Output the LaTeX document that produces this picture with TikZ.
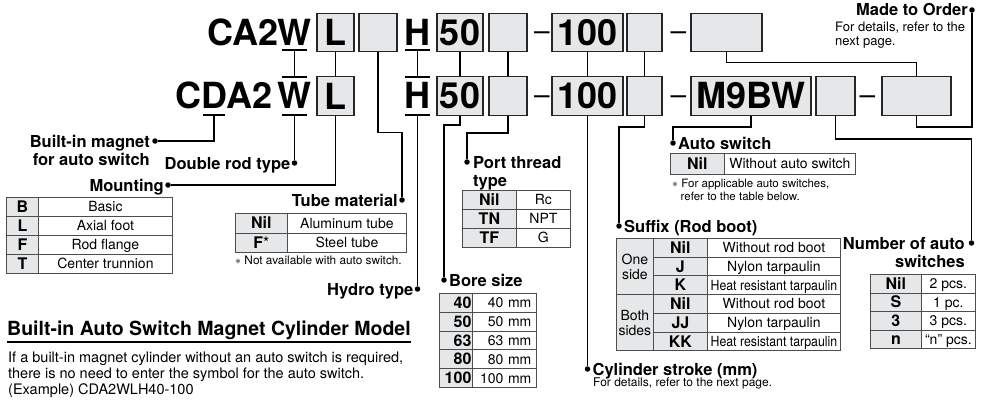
\documentclass[tikz,border=0pt]{standalone}
\usepackage{fontspec}
\usepackage{graphicx}
\setmainfont{TeX Gyre Heros}
\usetikzlibrary{positioning}

\definecolor{cellgray}{HTML}{E6E7E8}
\definecolor{rulegray}{HTML}{4D4D4D}

\newcommand{\fsz}[2]{\fontsize{#1}{#2}\selectfont}

\tikzset{
  code/.style={font=\fsz{36}{38}\bfseries, inner sep=0pt, anchor=base},
  codebox/.style={draw=black!85, line width=1.3pt, fill=cellgray, minimum height=38.5pt, inner sep=0pt, font=\fsz{36}{38}\bfseries},
  hyph/.style={font=\fsz{28}{30}, inner sep=0pt, anchor=base},
  conn/.style={line width=1.3pt},
  pin/.style={circle, fill=black, inner sep=0pt, minimum size=5.5pt},
  lbl/.style={font=\fsz{16.5}{18}\bfseries, inner sep=0pt},
  lblleft/.style={lbl, anchor=base east, xshift=-4pt, yshift=-6pt},
  lblright/.style={lbl, anchor=base west, xshift=5pt, yshift=-6pt},
  note/.style={font=\fsz{12.5}{14}, inner sep=0pt, align=left, anchor=north west},
  keycell/.style={draw=rulegray, line width=0.8pt, fill=cellgray, font=\fsz{16}{18}\bfseries, inner sep=0pt, anchor=north west, text height=11.5pt, text depth=0pt, minimum height=19pt},
  valcell/.style={draw=rulegray, line width=0.8pt, fill=white, font=\fsz{14}{16}, inner sep=0pt, anchor=north west, text height=10pt, text depth=0pt, minimum height=19pt},
  sidecell/.style={draw=rulegray, line width=0.8pt, fill=cellgray, font=\fsz{14}{15}, inner sep=0pt, anchor=north west, align=center, minimum width=37pt, minimum height=56.1pt},
}

\begin{document}
\begin{tikzpicture}[x=1pt,y=-1pt]
\useasboundingbox (0,0) rectangle (984,401);

% first code line
\node[code, anchor=base east] (ca1) at (279,45.5) {CA2};
\node[code] (w1) at (294.5,45.5) {W};
\node[codebox, minimum width=37pt] (mount1) at (335.5,32.5) {L};
\node[codebox, minimum width=38pt] (tube1) at (378,32.5) {};
\node[code] (h1) at (417.5,45.5) {H};
\node[codebox, minimum width=46pt] (bore1) at (460,32.5) {50};
\node[codebox, minimum width=38pt] (port1) at (508,32.5) {};
\node[hyph] (dash11) at (542,41) {–};
\node[codebox, minimum width=71pt] (stroke1) at (587.5,32.5) {100};
\node[codebox, minimum width=35pt] (suffix1) at (644.5,32.5) {};
\node[hyph] (dash12) at (678.5,41) {–};
\node[codebox, minimum width=71pt] (order1) at (726.5,32.5) {};

% second code line
\node[code, anchor=base east] (c2) at (201.5,109) {C};
\node[code] (d2) at (214,109) {D};
\node[code, anchor=base west] (a2) at (226.5,109) {A2};
\node[code] (w2) at (294.5,109) {W};
\node[codebox, minimum width=37pt] (mount2) at (335.5,96) {L};
\node[code] (h2) at (417.5,109) {H};
\node[codebox, minimum width=46pt] (bore2) at (460,96) {50};
\node[codebox, minimum width=38pt] (port2) at (508,96) {};
\node[hyph] (dash21) at (542,104.5) {–};
\node[codebox, minimum width=71pt] (stroke2) at (587.5,96) {100};
\node[codebox, minimum width=35pt] (suffix2) at (644.5,96) {};
\node[hyph] (dash22) at (678.5,104.5) {–};
\node[codebox, minimum width=120pt] (switch2) at (751,96) {M9BW};
\node[codebox, minimum width=39pt] (count2) at (835.5,96) {};
\node[hyph] (dash23) at (867.5,104.5) {–};
\node[codebox, minimum width=69pt] (order2) at (916.5,96) {};

% bars under and over the letters
\coordinate (w1b) at (294.5,50);
\coordinate (w2t) at (294.5,77);
\coordinate (w2b) at (294.5,115);
\coordinate (d2b) at (214,115);
\coordinate (h1b) at (417.5,50);
\coordinate (h2t) at (417.5,77);
\coordinate (h2b) at (417.5,115);
\draw[conn] ([xshift=-12.5pt]w1b) -- ([xshift=12.5pt]w1b);
\draw[conn] ([xshift=-12.5pt]w2t) -- ([xshift=12.5pt]w2t);
\draw[conn] ([xshift=-12.5pt]w2b) -- ([xshift=12.5pt]w2b);
\draw[conn] ([xshift=-11pt]d2b) -- ([xshift=11pt]d2b);
\draw[conn] ([xshift=-12.5pt]h1b) -- ([xshift=12.5pt]h1b);
\draw[conn] ([xshift=-12.5pt]h2t) -- ([xshift=12.5pt]h2t);
\draw[conn] ([xshift=-12.5pt]h2b) -- ([xshift=12.5pt]h2b);

% pins
\node[pin] (orderpin) at (972,10) {};
\node[pin] (magnetpin) at (155,141) {};
\node[pin] (doublepin) at (294.5,163) {};
\node[pin] (mountpin) at (168,185) {};
\node[pin] (tubepin) at (402,200) {};
\node[pin] (hydropin) at (417.5,289) {};
\node[pin] (portpin) at (467,162) {};
\node[pin] (borepin) at (444,280) {};
\node[pin] (strokepin) at (587.5,369) {};
\node[pin] (suffixpin) at (619,226) {};
\node[pin] (switchpin) at (673,143) {};
\node[pin] (countpin) at (971.5,243) {};

% connectors
\draw[conn] (w1b) -- (w2t);
\draw[conn] (mount1.south) -- (mount2.north);
\draw[conn] (h1b) -- (h2t);
\draw[conn] (bore1.south) -- (bore2.north);
\draw[conn] (port1.south) -- (port2.north);
\draw[conn] (stroke1.south) -- (stroke2.north);
\draw[conn] (suffix1.south) -- (suffix2.north);
\draw[conn] (order1.south) -- ++(0,10) -| (order2.north);
\draw[conn] (d2b) |- (magnetpin);
\draw[conn] (w2b) -- (doublepin);
\draw[conn] (mount2.south) |- (mountpin);
\draw[conn] (tube1.south) -- ++(0,80) -| (tubepin);
\draw[conn] (h2b) -- (hydropin);
\draw[conn] (bore2.south) -- ++(0,9) -| (borepin);
\draw[conn] (port2.south) -- ++(0,17) -| (portpin);
\draw[conn] (stroke2.south) -- (strokepin);
\draw[conn] (suffix2.south) -- ++(0,11) -| (suffixpin);
\draw[conn] (switch2.south) -- ++(0,11) -| (switchpin);
\draw[conn] (count2.south) -- ++(0,23) -| (countpin);
\draw[conn] (order2.south) -- ++(0,11) -| (orderpin);

% labels
\node[lblleft] (orderlbl) at (orderpin) {Made to Order};
\node[note, font=\fsz{13}{14}] (ordernote) at (835,22) {For details, refer to the\\next page.};
\node[lbl, align=right, anchor=north east] (magnetlbl) at (150,135) {Built-in magnet\\for auto switch};
\node[lblleft] (doublelbl) at (doublepin) {Double rod type};
\node[lblleft] (mountlbl) at (mountpin) {Mounting};
\node[lblleft] (tubelbl) at (tubepin) {Tube material};
\node[lblleft] (hydrolbl) at (hydropin) {Hydro type};
\node[lbl, align=left, anchor=north west] (portlbl) at (473,156) {Port thread\\type};
\node[lblright] (borelbl) at (borepin) {Bore size};
\node[lblright] (strokelbl) at (strokepin) {Cylinder stroke (mm)};
\node[note, font=\fsz{12}{14}] (strokenote) at (593,378) {For details, refer to the next page.};
\node[lblright] (suffixlbl) at (suffixpin) {Suffix (Rod boot)};
\node[lblright] (switchlbl) at (switchpin) {Auto switch};
\node[lbl, align=right, anchor=north east] (countlbl) at (965,237) {Number of auto\\switches};

% mounting
\node[keycell, minimum width=32pt] (mk1) at (6,197) {B};
\node[valcell, minimum width=134pt] (mv1) at (38,197) {Basic};
\node[keycell, minimum width=32pt] (mk2) at (6,216) {L};
\node[valcell, minimum width=134pt] (mv2) at (38,216) {Axial foot};
\node[keycell, minimum width=32pt] (mk3) at (6,235) {F};
\node[valcell, minimum width=134pt] (mv3) at (38,235) {Rod flange};
\node[keycell, minimum width=32pt] (mk4) at (6,254) {T};
\node[valcell, minimum width=134pt] (mv4) at (38,254) {Center trunnion};

% tube material
\node[keycell, minimum width=52pt, minimum height=19.5pt] (tk1) at (235,213) {Nil};
\node[valcell, minimum width=119pt, minimum height=19.5pt] (tv1) at (287,213) {Aluminum tube};
\node[keycell, minimum width=52pt, minimum height=19.5pt] (tk2) at (235,232.5) {F{\mdseries*}};
\node[valcell, minimum width=119pt, minimum height=19.5pt] (tv2) at (287,232.5) {Steel tube};
\node[note, font=\fsz{11.8}{13}] (tubenote) at (235,256) {$\ast$ Not available with auto switch.};

% port thread
\node[keycell, minimum width=54pt] (pk1) at (462,190) {Nil};
\node[valcell, minimum width=54pt] (pv1) at (516,190) {Rc};
\node[keycell, minimum width=54pt] (pk2) at (462,209) {TN};
\node[valcell, minimum width=54pt] (pv2) at (516,209) {NPT};
\node[keycell, minimum width=54pt] (pk3) at (462,228) {TF};
\node[valcell, minimum width=54pt] (pv3) at (516,228) {G};

% bore size
\tikzset{borekey/.style={keycell, minimum height=18.8pt, text width=31pt, inner xsep=1pt, align=right},
         boreval/.style={valcell, minimum height=18.8pt, text width=54pt, inner xsep=5pt, align=right}}
\node[borekey] (bk1) at (439,293) {40};
\node[boreval] (bv1) at (472,293) {40 mm};
\node[borekey] (bk2) at (439,311.8) {50};
\node[boreval] (bv2) at (472,311.8) {50 mm};
\node[borekey] (bk3) at (439,330.6) {63};
\node[boreval] (bv3) at (472,330.6) {63 mm};
\node[borekey] (bk4) at (439,349.4) {80};
\node[boreval] (bv4) at (472,349.4) {80 mm};
\node[borekey] (bk5) at (439,368.2) {100};
\node[boreval] (bv5) at (472,368.2) {100 mm};

% auto switch
\node[keycell, minimum width=54pt, minimum height=21pt] (ak1) at (670,153) {Nil};
\node[valcell, minimum width=131pt, minimum height=21pt] (av1) at (724,153) {Without auto switch};
\node[note, font=\fsz{11.5}{13}] (switchnote) at (672,178.5) {$\ast$ For applicable auto switches,\\\hspace*{8.5pt}refer to the table below.};

% suffix (rod boot)
\node[sidecell] (sone) at (616,238) {One\\side};
\node[sidecell] (sboth) at (616,294.1) {Both\\sides};
\node[keycell, minimum width=54pt, minimum height=18.7pt] (sk1) at (653,238) {Nil};
\node[valcell, minimum width=133pt, minimum height=18.7pt] (sv1) at (707,238) {Without rod boot};
\node[keycell, minimum width=54pt, minimum height=18.7pt] (sk2) at (653,256.7) {J};
\node[valcell, minimum width=133pt, minimum height=18.7pt] (sv2) at (707,256.7) {Nylon tarpaulin};
\node[keycell, minimum width=54pt, minimum height=18.7pt] (sk3) at (653,275.4) {K};
\node[valcell, minimum width=133pt, minimum height=18.7pt] (sv3) at (707,275.4) {\scalebox{0.88}[1]{Heat resistant tarpaulin}};
\node[keycell, minimum width=54pt, minimum height=18.7pt] (sk4) at (653,294.1) {Nil};
\node[valcell, minimum width=133pt, minimum height=18.7pt] (sv4) at (707,294.1) {Without rod boot};
\node[keycell, minimum width=54pt, minimum height=18.7pt] (sk5) at (653,312.8) {JJ};
\node[valcell, minimum width=133pt, minimum height=18.7pt] (sv5) at (707,312.8) {Nylon tarpaulin};
\node[keycell, minimum width=54pt, minimum height=18.7pt] (sk6) at (653,331.5) {KK};
\node[valcell, minimum width=133pt, minimum height=18.7pt] (sv6) at (707,331.5) {\scalebox{0.88}[1]{Heat resistant tarpaulin}};

% number of auto switches
\node[keycell, minimum width=51pt, minimum height=18.5pt] (nk1) at (870,274) {Nil};
\node[valcell, minimum width=54pt, minimum height=18.5pt] (nv1) at (921,274) {2 pcs.};
\node[keycell, minimum width=51pt, minimum height=18.5pt] (nk2) at (870,292.5) {S};
\node[valcell, minimum width=54pt, minimum height=18.5pt] (nv2) at (921,292.5) {1 pc.};
\node[keycell, minimum width=51pt, minimum height=18.5pt] (nk3) at (870,311) {3};
\node[valcell, minimum width=54pt, minimum height=18.5pt] (nv3) at (921,311) {3 pcs.};
\node[keycell, minimum width=51pt, minimum height=18.5pt] (nk4) at (870,329.5) {n};
\node[valcell, minimum width=54pt, minimum height=18.5pt] (nv4) at (921,329.5) {“n” pcs.};

% built-in magnet model note
\node[lbl, font=\fsz{19.5}{21}\bfseries, anchor=base west] (modeltitle) at (7,335) {Built-in Auto Switch Magnet Cylinder Model};
\draw[line width=1.1pt] ([yshift=-7pt]modeltitle.base west) -- ([yshift=-7pt]modeltitle.base east);
\node[note, font=\fsz{14.5}{16}] (modeltext) at (8,351.5) {If a built-in magnet cylinder without an auto switch is required,\\there is no need to enter the symbol for the auto switch.\\(Example) CDA2WLH40-100};
\end{tikzpicture}
\end{document}
